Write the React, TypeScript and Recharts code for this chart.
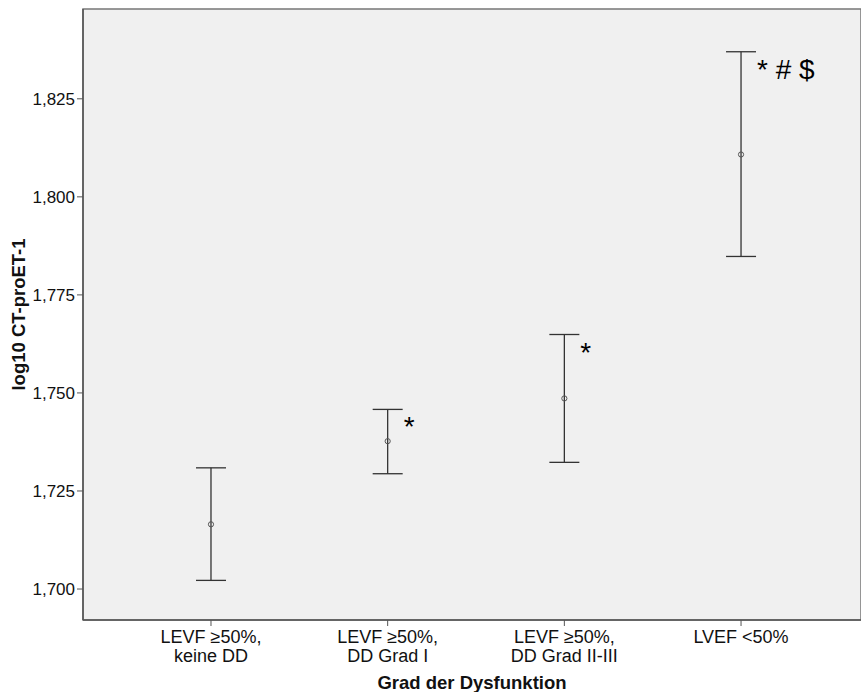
import React from 'react';
import { ScatterChart, Scatter, XAxis, YAxis, ErrorBar, ReferenceArea } from 'recharts';

const categories = ['LEVF ≥50%,|keine DD', 'LEVF ≥50%,|DD Grad I', 'LEVF ≥50%,|DD Grad II-III', 'LVEF <50%'];
const means = [1.7165, 1.7377, 1.7486, 1.8108];
const lowers = [1.7022, 1.7294, 1.7323, 1.7848];
const uppers = [1.7309, 1.7458, 1.7649, 1.8370];
const notes = ['', '*', '*', '* # $'];
const yTicks = [1.7, 1.725, 1.75, 1.775, 1.8, 1.825];

const meanData = categories.map((_, i) => ({
  idx: i,
  val: means[i],
  err: [means[i] - lowers[i], uppers[i] - means[i]],
}));
const noteData = categories.map((_, i) => ({ idx: i, val: uppers[i], note: notes[i] }));

const font = '"Liberation Sans", Arial, sans-serif';

const CatTick = (props: any) => {
  const { x, y, payload } = props;
  const lines = categories[payload.value].split('|');
  return (
    <text x={x} y={y} textAnchor="middle" fontFamily={font} fontSize={18} fill="#111">
      {lines.map((l, i) => (
        <tspan key={i} x={x} dy={i === 0 ? 15 : 19}>{l}</tspan>
      ))}
    </text>
  );
};

const MeanDot = (props: any) => {
  const { cx, cy } = props;
  return <circle cx={cx} cy={cy} r={2.6} fill="none" stroke="#555" strokeWidth={1} />;
};

const NoteShape = (props: any) => {
  const { cx, cy, payload } = props;
  if (!payload.note) return <g />;
  return (
    <text x={cx + 16} y={cy + 27} fontFamily={font} fontSize={28} fill="#000">
      {payload.note}
    </text>
  );
};

export default function App() {
  return (
    <div style={{ position: 'absolute', left: 0, top: 0, width: 861, height: 692, background: '#fff' }}>
      <ScatterChart width={861} height={692} margin={{ top: 9, right: 0, bottom: 0, left: 0 }}>
        <ReferenceArea
          x1={-0.7244}
          x2={3.679}
          y1={1.6921}
          y2={1.8479}
          fill="#f0f0f0"
          fillOpacity={1}
          stroke="#777"
          strokeWidth={1.5}
        />
        <XAxis
          type="number"
          dataKey="idx"
          height={72}
          domain={[-0.7244, 3.679]}
          ticks={[0, 1, 2, 3]}
          allowDataOverflow
          tick={<CatTick />}
          tickSize={6}
          axisLine={{ stroke: '#555', strokeWidth: 1.5 }}
          tickLine={{ stroke: '#555' }}
          interval={0}
          label={{
            value: 'Grad der Dysfunktion',
            position: 'insideBottom',
            offset: 3,
            style: { fontFamily: font, fontSize: 18.5, fontWeight: 'bold', fill: '#111' },
          }}
        />
        <YAxis
          type="number"
          dataKey="val"
          width={83}
          domain={[1.6921, 1.8479]}
          ticks={yTicks}
          allowDataOverflow
          tickFormatter={(v: number) => v.toFixed(3).replace('.', ',')}
          tick={{ fontFamily: font, fontSize: 17, fill: '#111' }}
          tickSize={6}
          axisLine={{ stroke: '#555', strokeWidth: 1.5 }}
          tickLine={{ stroke: '#555' }}
          label={{
            value: 'log10 CT-proET-1',
            angle: -90,
            position: 'insideLeft',
            offset: 18,
            style: { fontFamily: font, fontSize: 18.5, fontWeight: 'bold', fill: '#111', textAnchor: 'middle' },
          }}
        />
        <Scatter data={meanData} shape={<MeanDot />} isAnimationActive={false}>
          <ErrorBar dataKey="err" direction="y" width={15} stroke="#333" strokeWidth={1.3} />
        </Scatter>
        <Scatter data={noteData} shape={<NoteShape />} isAnimationActive={false} />
      </ScatterChart>
    </div>
  );
}
